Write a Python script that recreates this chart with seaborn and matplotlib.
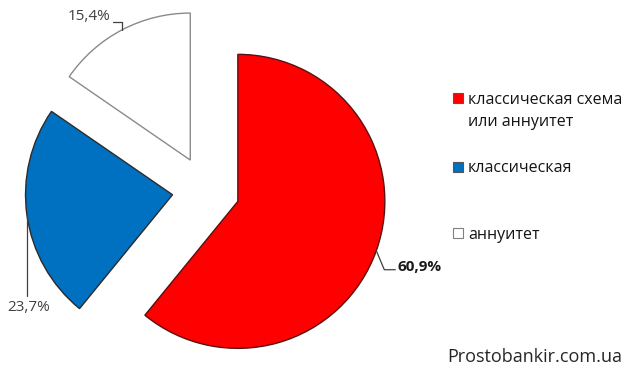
import matplotlib
matplotlib.use("Agg")
import matplotlib.pyplot as plt
from matplotlib.patches import Rectangle
import seaborn as sns
import numpy as np

# ---- data ----
categories = ["классическая схема\nили аннуитет", "классическая", "аннуитет"]
values = [60.9, 23.7, 15.4]
value_labels = ["60,9%", "23,7%", "15,4%"]
colors = ["#FF0000", "#0070C0", "#FFFFFF"]
edge_colors = ["#5a1010", "#2b2b2b", "#8a8a8a"]
watermark = "Prostobankir.com.ua"

sns.set_theme(style="white")
plt.rcParams["font.family"] = ["Open Sans", "DejaVu Sans"]

W, H = 640, 386
fig = plt.figure(figsize=(W / 100, H / 100), dpi=100)
ax = fig.add_axes([0, 0, 1, 1])

R_PX = 147.0          # pie radius in pixels
CX, CY = 206.0, 190.0  # pie centre in pixels (from top-left)

wedges, _ = ax.pie(values, colors=colors, explode=[0.23] * 3, startangle=90,
                   counterclock=False, radius=1.0,
                   wedgeprops=dict(linewidth=1.0))
for w, ec in zip(wedges, edge_colors):
    w.set_edgecolor(ec)

ax.set_xlim(-CX / R_PX, (W - CX) / R_PX)
ax.set_ylim(-(H - CY) / R_PX, CY / R_PX)
ax.set_aspect("auto")
ax.axis("off")


def px(dx, dy):
    """pixel offset (y down) -> data offset"""
    return np.array([dx / R_PX, -dy / R_PX])


def anchor(w):
    mid = np.deg2rad((w.theta1 + w.theta2) / 2)
    c = np.array(w.center)
    return c + w.r * np.array([np.cos(mid), np.sin(mid)])


# leader lines and value labels
# red (60,9%)
a = anchor(wedges[0])
pts = np.array([a, a + px(8, 19), a + px(19, 19)])
ax.plot(pts[:, 0], pts[:, 1], color="#404040", lw=0.9)
t = a + px(21, 16)
ax.text(t[0], t[1], value_labels[0], fontsize=11, fontweight="bold",
        color="#1a1a1a", ha="left", va="center")

# blue (23,7%)
a = anchor(wedges[1])
pts = np.array([a, a + px(0, 81)])
ax.plot(pts[:, 0], pts[:, 1], color="#404040", lw=0.9)
t = a + px(2, 92)
ax.text(t[0], t[1], value_labels[1], fontsize=11, color="#404040",
        ha="center", va="center")

# white (15,4%)
a = anchor(wedges[2])
pts = np.array([a, a + px(0, -8), a + px(-9, -8)])
ax.plot(pts[:, 0], pts[:, 1], color="#404040", lw=0.9)
t = a + px(-11, -13.5)
ax.text(t[0], t[1], value_labels[2], fontsize=11, color="#404040",
        ha="right", va="center")

# legend (manual, pixel layout)
leg_y = [98, 166.5, 233]
for cat, col, ec, y in zip(categories, colors, edge_colors, leg_y):
    fig.patches.append(Rectangle(((453) / W, 1 - (y + 5) / H), 10 / W, 10 / H,
                                 transform=fig.transFigure, facecolor=col,
                                 edgecolor="#555555" if col != "#FFFFFF" else "#808080",
                                 linewidth=0.8, figure=fig))
    for i, line in enumerate(cat.split("\n")):
        fig.text(468 / W, 1 - (y + 1.5 + 22 * i) / H, line, fontsize=11.5,
                 color="#141414", ha="left", va="center")

fig.text(622 / W, 1 - 357 / H, watermark, fontsize=13, color="#262626",
         ha="right", va="center")

fig.savefig("out.png", dpi=100)
